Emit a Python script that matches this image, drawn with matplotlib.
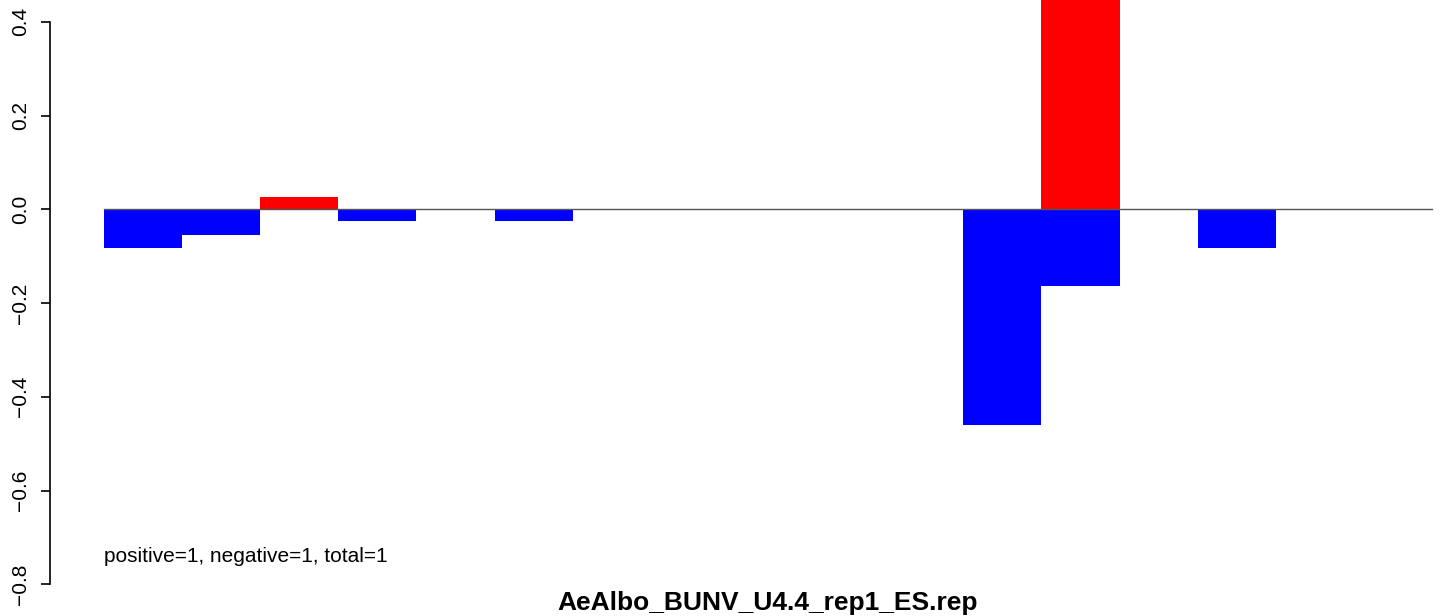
import matplotlib
matplotlib.use("Agg")
import matplotlib.pyplot as plt
import numpy as np

# Data
slots = list(range(17))
neg_values = [-0.083, -0.055, 0, -0.026, 0, -0.026, 0, 0, 0, 0, 0, -0.46, -0.164, 0, -0.083, 0, 0]
pos_values = [0, 0, 0.026, 0, 0, 0, 0, 0, 0, 0, 0, 0, 0.6, 0, 0, 0, 0]
ytick_vals = [-0.8, -0.6, -0.4, -0.2, 0.0, 0.2, 0.4]
ytick_labels = ["\u22120.8", "\u22120.6", "\u22120.4", "\u22120.2", "0.0", "0.2", "0.4"]
title = "AeAlbo_BUNV_U4.4_rep1_ES.rep"
note = "positive=1, negative=1, total=1"

plt.rcParams['font.family'] = ['Liberation Sans', 'DejaVu Sans']

W, H = 1444, 616
fig = plt.figure(figsize=(W / 100, H / 100), dpi=100)
ax = fig.add_axes([0, 0, 1, 1])

# pixel mapping
x0_px, bw_px = 104, 78.12
y0_px, unit_px = 209.3, 468.75
ax.set_xlim(-x0_px / bw_px, (W - x0_px) / bw_px)
ax.set_ylim(-(H - y0_px) / unit_px, y0_px / unit_px)

x = np.array(slots)
ax.bar(x, neg_values, width=1.0, align='edge', color='#0000ff', linewidth=0, zorder=2)
ax.bar(x, pos_values, width=1.0, align='edge', color='#ff0000', linewidth=0, zorder=2)
ax.plot([0, len(slots)], [0, 0], color='#555555', lw=1.0, zorder=3)

for s in ['top', 'right', 'bottom']:
    ax.spines[s].set_visible(False)
ax.spines['left'].set_position(('data', (50 - x0_px) / bw_px))
ax.spines['left'].set_bounds(-0.8, 0.4)
ax.spines['left'].set_linewidth(1.2)
ax.set_yticks(ytick_vals)
ax.set_yticklabels(ytick_labels, rotation=90, va='center')
ax.tick_params(axis='y', direction='out', length=6.5, width=1.2, pad=8, labelsize=15)
ax.set_xticks([])

ax.text(0, -(557 - y0_px) / unit_px, note, fontsize=15, ha='left', va='center')
ax.text(len(slots) / 2, -(603 - y0_px) / unit_px, title, fontsize=19, fontweight='bold',
        ha='center', va='center')

fig.savefig("out.png", dpi=100)
